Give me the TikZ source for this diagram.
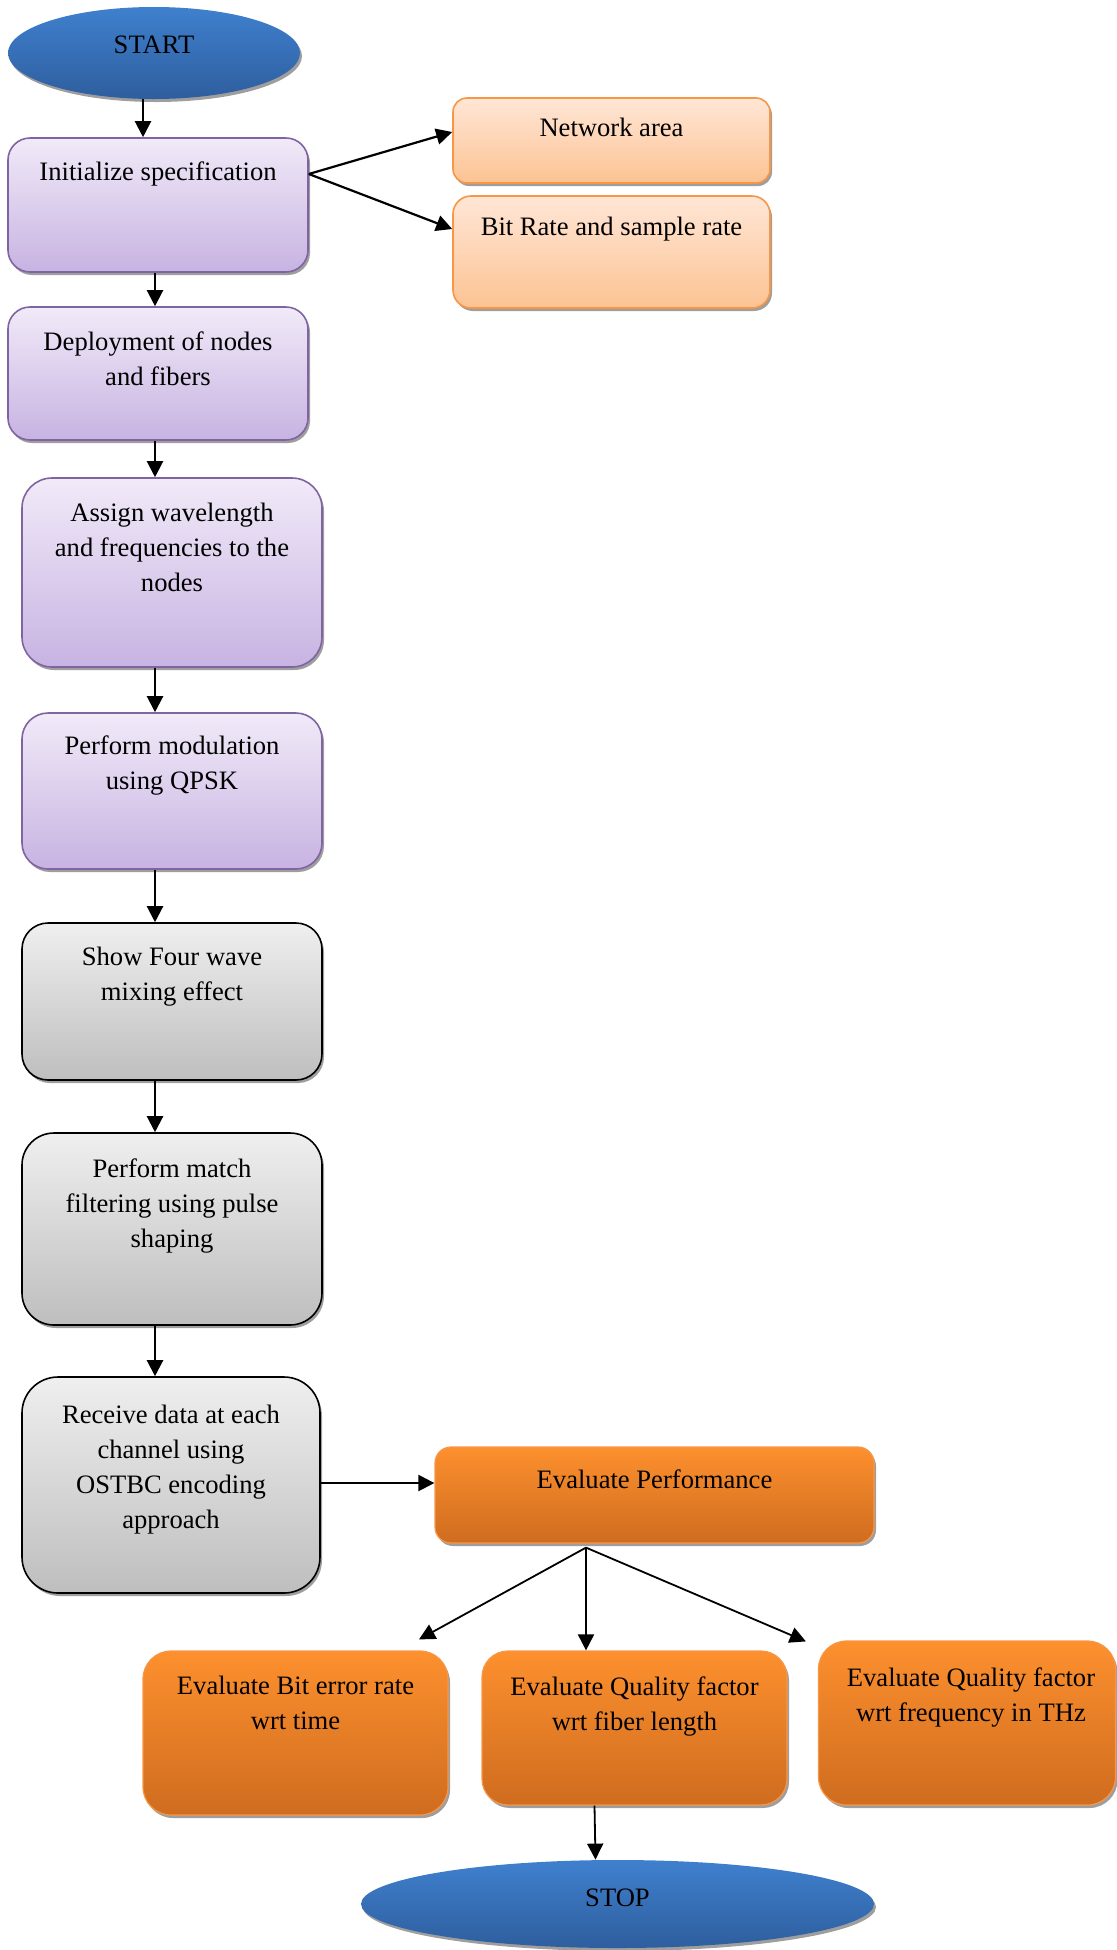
\documentclass[tikz,border=0pt]{standalone}
\usepackage{fontspec}
\setmainfont{Liberation Serif}
\usetikzlibrary{arrows.meta,shapes,positioning,shadows}

\definecolor{lilacTop}{HTML}{F1EAF8}
\definecolor{lilacBot}{HTML}{C7B3E2}
\definecolor{lilacLine}{HTML}{8064A2}
\definecolor{peachTop}{HTML}{FFE6D6}
\definecolor{peachBot}{HTML}{FCC393}
\definecolor{orangeLine}{HTML}{F79646}
\definecolor{greyTop}{HTML}{EFEFEF}
\definecolor{greyBot}{HTML}{BEBEBE}
\definecolor{orangeTop}{HTML}{FD902E}
\definecolor{orangeBot}{HTML}{CF6C1F}
\definecolor{blueTop}{HTML}{3F80CE}
\definecolor{blueBot}{HTML}{2E5E9E}

\tikzset{
    shadowed/.style={drop shadow={shadow xshift=1pt,shadow yshift=-1.5pt,fill=black!38,opacity=1}},
    terminal/.style={ellipse,shadowed,top color=blueTop,bottom color=blueBot,inner sep=0pt},
    lilacbox/.style={rectangle,shadowed,draw=lilacLine,line width=0.8pt,top color=lilacTop,bottom color=lilacBot},
    peachbox/.style={rectangle,shadowed,draw=orangeLine,line width=0.8pt,top color=peachTop,bottom color=peachBot},
    greybox/.style={rectangle,shadowed,draw=black,line width=0.8pt,top color=greyTop,bottom color=greyBot},
    orangebox/.style={rectangle,shadowed,draw=orangeLine,line width=0.6pt,top color=orangeTop,bottom color=orangeBot},
    txt/.style={inner sep=0pt,align=center,anchor=north},
    arr/.style={-{Triangle[length=8pt,width=8pt]},line width=1.1pt}
}

\begin{document}
\begin{tikzpicture}[x=0.5pt,y=-0.5pt,font=\fontsize{13.3pt}{17.5pt}\selectfont]
    \useasboundingbox (0,0) rectangle (1116,1950);

    % main column
    \node[terminal,minimum width=146pt,minimum height=46pt] (start) at (154,53) {};
    \node[txt,anchor=center] (startT) at ([yshift=4pt]start.center) {START};

    \node[lilacbox,rounded corners=11pt,minimum width=150pt,minimum height=67pt] (init) at (158,205) {};
    \node[txt] (initT) at ([yshift=-12.3pt]init.north) {Initialize specification};

    \node[lilacbox,rounded corners=11pt,minimum width=150pt,minimum height=66.5pt] (deploy) at (158,373.5) {};
    \node[txt] (deployT) at ([yshift=-12.8pt]deploy.north) {Deployment of nodes\\and fibers};

    \node[lilacbox,rounded corners=15pt,minimum width=150pt,minimum height=94.5pt] (assign) at (172,572.5) {};
    \node[txt] (assignT) at ([yshift=-12.8pt]assign.north) {Assign wavelength\\and frequencies to the\\nodes};

    \node[lilacbox,rounded corners=13pt,minimum width=150pt,minimum height=78pt] (modul) at (172,791) {};
    \node[txt] (modulT) at ([yshift=-11.8pt]modul.north) {Perform modulation\\using QPSK};

    \node[greybox,rounded corners=13pt,minimum width=150pt,minimum height=78.5pt] (fwm) at (172,1001.5) {};
    \node[txt] (fwmT) at ([yshift=-12.3pt]fwm.north) {Show Four wave\\mixing effect};

    \node[greybox,rounded corners=16pt,minimum width=150pt,minimum height=96pt] (match) at (172,1229) {};
    \node[txt] (matchT) at ([yshift=-13.3pt]match.north) {Perform match\\filtering using pulse\\shaping};

    \node[greybox,rounded corners=18pt,minimum width=149pt,minimum height=108pt] (recv) at (171,1485) {};
    \node[txt] (recvT) at ([yshift=-14.3pt]recv.north) {Receive data at each\\channel using\\OSTBC encoding\\approach};

    % specification
    \node[peachbox,rounded corners=7pt,minimum width=158.5pt,minimum height=42.5pt] (net) at (611.5,140.5) {};
    \node[txt] (netT) at ([yshift=-10.3pt]net.north) {Network area};

    \node[peachbox,rounded corners=9pt,minimum width=158.5pt,minimum height=56pt] (rate) at (611.5,252) {};
    \node[txt] (rateT) at ([yshift=-10.8pt]rate.north) {Bit Rate and sample rate};

    % evaluation
    \node[orangebox,rounded corners=8pt,minimum width=219.5pt,minimum height=48pt] (perf) at (654.5,1495) {};
    \node[txt] (perfT) at ([yshift=-11.3pt]perf.north) {Evaluate Performance};

    \node[orangebox,rounded corners=14pt,minimum width=152.5pt,minimum height=82pt] (ber) at (295.5,1733) {};
    \node[txt] (berT) at ([yshift=-12.8pt]ber.north) {Evaluate Bit error rate\\wrt time};

    \node[orangebox,rounded corners=13pt,minimum width=152.5pt,minimum height=77pt] (qfl) at (634.5,1728) {};
    \node[txt] (qflT) at ([yshift=-12.8pt]qfl.north) {Evaluate Quality factor\\wrt fiber length};

    \node[orangebox,rounded corners=14pt,minimum width=148.5pt,minimum height=82pt] (qthz) at (967,1723) {};
    \node[txt] (qthzT) at ([yshift=-13.3pt,xshift=2pt]qthz.north) {Evaluate Quality factor\\wrt frequency in THz};

    \node[terminal,minimum width=256.5pt,minimum height=44pt] (stop) at (617.5,1904) {};
    \node[txt,anchor=center] (stopT) at ([yshift=3pt]stop.center) {STOP};

    % connectors
    \coordinate (spine) at (155,0);
    \coordinate (fan) at ([xshift=-34.25pt,yshift=-2pt]perf.south);
    \draw[arr] ([xshift=-5.5pt]start.south) -- ([xshift=-5.5pt]start.south |- init.north);
    \draw[arr] (spine |- init.south) -- (spine |- deploy.north);
    \draw[arr] (spine |- deploy.south) -- (spine |- assign.north);
    \draw[arr] (spine |- assign.south) -- (spine |- modul.north);
    \draw[arr] (spine |- modul.south) -- (spine |- fwm.north);
    \draw[arr] (spine |- fwm.south) -- (spine |- match.north);
    \draw[arr] (spine |- match.south) -- (spine |- recv.north);
    \draw[arr] ([yshift=15.5pt]init.east) -- ([yshift=4.25pt]net.west);
    \draw[arr] ([yshift=15.5pt]init.east) -- ([yshift=11.5pt]rate.west);
    \draw[arr] ([yshift=1pt]recv.east) -- ([yshift=1pt]recv.east -| perf.west);
    \draw[arr,line width=0.9pt] (fan) -- ([xshift=61.75pt,yshift=5.5pt]ber.north);
    \draw[arr,line width=0.9pt] (fan) -- (fan |- qfl.north);
    \draw[arr,line width=0.9pt] (fan) -- ([xshift=-6pt,yshift=-0.5pt]qthz.north west);
    \draw[arr,line width=0.9pt] ([xshift=-20pt]qfl.south) -- ([xshift=-19.5pt]qfl.south |- stop.north);
\end{tikzpicture}
\end{document}
